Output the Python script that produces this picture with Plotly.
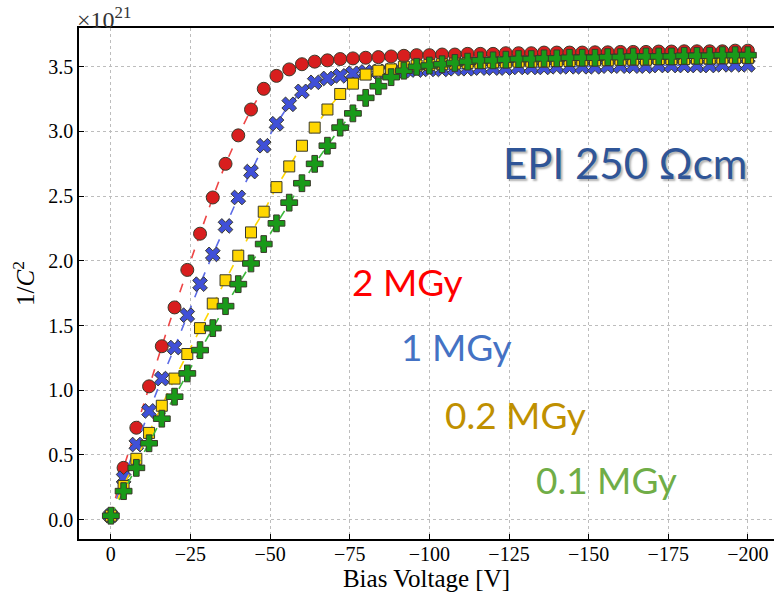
import plotly.graph_objects as go

voltage = [0, -4, -8, -12, -16, -20, -24, -28, -32, -36, -40, -44, -48, -52, -56, -60,
           -64, -68, -72, -76, -80, -84, -88, -92, -96, -100, -104, -108, -112, -116,
           -120, -124, -128, -132, -136, -140, -144, -148, -152, -156, -160, -164,
           -168, -172, -176, -180, -184, -188, -192, -196, -200]

# 1/C^2 in units of 1e21
inv_c2_2mgy = [0.03, 0.40, 0.71, 1.03, 1.34, 1.64, 1.93, 2.21, 2.49, 2.75, 2.97, 3.17, 3.33,
               3.43, 3.48, 3.52, 3.54, 3.55, 3.56, 3.565, 3.57, 3.575, 3.58, 3.585, 3.59,
               3.59, 3.595, 3.595, 3.60, 3.60, 3.60, 3.605, 3.605, 3.605, 3.61, 3.61, 3.61,
               3.61, 3.612, 3.612, 3.615, 3.615, 3.615, 3.618, 3.618, 3.62, 3.62, 3.62,
               3.62, 3.625, 3.625]
inv_c2_1mgy = [0.03, 0.32, 0.58, 0.84, 1.09, 1.33, 1.58, 1.82, 2.05, 2.27, 2.49, 2.69, 2.89,
               3.06, 3.21, 3.31, 3.38, 3.41, 3.43, 3.45, 3.46, 3.465, 3.47, 3.47, 3.475,
               3.48, 3.48, 3.485, 3.485, 3.49, 3.49, 3.49, 3.495, 3.495, 3.495, 3.50, 3.50,
               3.50, 3.50, 3.505, 3.505, 3.505, 3.505, 3.51, 3.51, 3.51, 3.51, 3.51, 3.515,
               3.515, 3.515]
inv_c2_02mgy = [0.03, 0.26, 0.47, 0.67, 0.88, 1.09, 1.28, 1.48, 1.67, 1.85, 2.04, 2.22, 2.38,
                2.57, 2.73, 2.89, 3.03, 3.17, 3.29, 3.37, 3.44, 3.47, 3.48, 3.50, 3.51,
                3.515, 3.52, 3.525, 3.53, 3.53, 3.535, 3.535, 3.54, 3.54, 3.54, 3.545, 3.545,
                3.55, 3.55, 3.55, 3.555, 3.555, 3.555, 3.56, 3.56, 3.56, 3.565, 3.565, 3.565,
                3.57, 3.57]
inv_c2_01mgy = [0.03, 0.22, 0.40, 0.59, 0.78, 0.95, 1.13, 1.31, 1.48, 1.65, 1.82, 1.98, 2.13,
                2.29, 2.45, 2.60, 2.75, 2.89, 3.03, 3.14, 3.26, 3.35, 3.42, 3.47, 3.50,
                3.51, 3.52, 3.53, 3.54, 3.55, 3.55, 3.555, 3.56, 3.56, 3.565, 3.565, 3.57,
                3.57, 3.57, 3.575, 3.575, 3.58, 3.58, 3.58, 3.58, 3.585, 3.585, 3.585, 3.59,
                3.59, 3.59]

x_ticks = [0, -25, -50, -75, -100, -125, -150, -175, -200]
y_ticks = [0.0, 0.5, 1.0, 1.5, 2.0, 2.5, 3.0, 3.5]

series = [
    ("2 MGy", inv_c2_2mgy, "circle", 13, "#d81e1e", "#ee4545"),
    ("1 MGy", inv_c2_1mgy, "x", 13, "#4050d8", "#5b6be6"),
    ("0.2 MGy", inv_c2_02mgy, "square", 11, "#ffd600", "#ffd600"),
    ("0.1 MGy", inv_c2_01mgy, "cross", 14, "#199a19", "#3cb83c"),
]

fig = go.Figure()
for name, vals, sym, size, mcol, lcol in series:
    fig.add_trace(go.Scatter(
        x=voltage, y=vals, mode="lines+markers", name=name,
        line=dict(color=lcol, width=1.6, dash="dash"),
        marker=dict(symbol=sym, size=size, color=mcol,
                    line=dict(color="#3a3a2a", width=1)),
    ))

serif = "Liberation Serif"
fig.update_layout(
    width=774, height=595,
    margin=dict(l=79, r=0, t=28, b=56),
    paper_bgcolor="white", plot_bgcolor="white",
    showlegend=False,
    font=dict(family=serif, size=20, color="black"),
)
fig.update_xaxes(
    range=[10, -208.2], tickvals=x_ticks, ticks="inside", ticklen=5, tickwidth=1.2,
    tickcolor="black", showline=True, linecolor="black", linewidth=1.6, mirror=True,
    showgrid=True, gridcolor="#bdbdbd", griddash="dot", gridwidth=1, zeroline=False,
    title=dict(text="Bias Voltage [V]", font=dict(family=serif, size=25), standoff=2),
    tickfont=dict(family=serif, size=20), ticklabelstandoff=-4,
)
fig.update_yaxes(
    range=[-0.15, 3.80], tickvals=y_ticks, tickformat=".1f", ticks="inside", ticklen=5,
    tickwidth=1.2, tickcolor="black", showline=True, linecolor="black", linewidth=1.6,
    showgrid=True, gridcolor="#bdbdbd", griddash="dot", gridwidth=1, zeroline=False,
    title=dict(text="1/<i>C</i><sup>2</sup>", font=dict(family=serif, size=25), standoff=6),
    tickfont=dict(family=serif, size=20),
)

fig.add_annotation(xref="paper", yref="paper", x=0, y=1, xanchor="left", yanchor="bottom",
                   text="×10<sup>21</sup>", showarrow=False, yshift=-7, xshift=-4,
                   font=dict(family=serif, size=24, color="#333"))

sans = "Lato"
fig.add_annotation(x=-161.5, y=2.76, text="EPI 250 Ωcm", showarrow=False,
                   font=dict(family=sans, size=42, color="#2f5597",
                             shadow="2px 2px 2px rgba(0,0,0,0.3)"))
labels = [("2 MGy", -93, 1.84, "#ff0000"),
          ("1 MGy", -108.5, 1.34, "#4472c4"),
          ("0.2 MGy", -127, 0.81, "#bf9000"),
          ("0.1 MGy", -155.5, 0.31, "#70ad47")]
for txt, xv, yv, col in labels:
    fig.add_annotation(x=xv, y=yv, text=txt, showarrow=False,
                       font=dict(family=sans, size=37, color=col))

fig.write_html("out.html")
